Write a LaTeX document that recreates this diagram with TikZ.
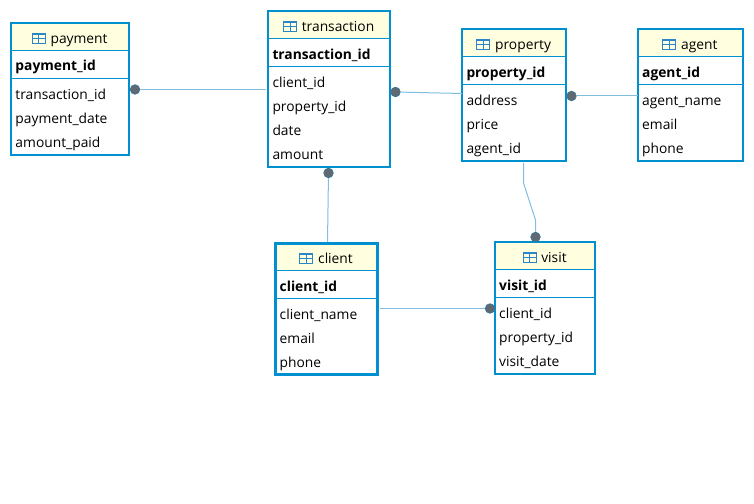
\documentclass[tikz,border=0pt]{standalone}
\usepackage{fontspec}
\setmainfont{Open Sans}
\usetikzlibrary{positioning}
\definecolor{tblblue}{RGB}{0,144,208}
\definecolor{tblhead}{RGB}{255,255,224}
\definecolor{iconblue}{RGB}{42,134,200}
\definecolor{linkblue}{RGB}{125,190,225}
\definecolor{dotgrey}{RGB}{98,104,112}
\tikzset{
  tblbox/.style={draw=tblblue,anchor=north west,inner sep=0pt,outer sep=0pt},
  tblrule/.style={draw=tblblue,line width=1bp},
  tbltitle/.style={anchor=base,inner sep=0pt,text height=13bp,text depth=3bp,font=\fontsize{13.8bp}{16bp}\selectfont},
  tblkey/.style={anchor=base west,inner sep=0pt,font=\fontsize{13.8bp}{16bp}\selectfont\bfseries},
  tblfield/.style={anchor=base west,inner sep=0pt,font=\fontsize{13.8bp}{16bp}\selectfont},
  tblicon/.style={draw=iconblue,line width=1bp,inner sep=0pt,outer sep=0pt,minimum width=13bp,minimum height=9.5bp,
    path picture={\draw [iconblue,line width=1bp]
      ([yshift=-.5bp]path picture bounding box.west) -- ([yshift=-.5bp]path picture bounding box.east)
      (path picture bounding box.north) -- (path picture bounding box.south);
      \draw [iconblue,line width=2bp] (path picture bounding box.north west) -- (path picture bounding box.north east);}},
  link/.style={draw=linkblue,line width=1bp},
  fkdot/.style={circle,fill=dotgrey,draw=tblblue!40!dotgrey,line width=.8bp,inner sep=0pt,minimum size=9.5bp},
}
% \dbtable[border]{name}{left}{top}{width}{height}{title}{key}{fields}
\newcommand{\dbtable}[9][2bp]{
  \begin{scope}[shift={(#3,#4)}]
    \fill [tblhead] (0,0) rectangle (#5,27.5);
    \draw [tblrule] (0,27.5) -- (#5,27.5);
    \draw [tblrule] (0,55.3) -- (#5,55.3);
  \end{scope}
  \node [tblbox,line width=#1,minimum width=#5 bp,minimum height=#6 bp] (#2) at (#3,#4) {};
  \begin{scope}[shift={(#3,#4)}]
    \node [tbltitle] (#2-title) at (#5/2+9,20) {#7};
    \node [tblicon,left=5bp of #2-title] (#2-icon) {};
    \node [tblkey] (#2-key) at (4,47.7) {#8};
    \foreach \f [count=\i] in {#9} {
      \node [tblfield] (#2-\i) at (4,76+24*\i-24) {\f};
    }
  \end{scope}
}
\begin{document}
\begin{tikzpicture}[x=1bp,y=-1bp]
  \useasboundingbox (0,0) rectangle (754,504);
  \dbtable{payment}{11.3}{23.3}{117.5}{131.6}{payment}{payment\_id}{transaction\_id,payment\_date,amount\_paid}
  \dbtable{transaction}{268.3}{11.5}{121.5}{155.5}{transaction}{transaction\_id}{client\_id,property\_id,date,amount}
  \dbtable{property}{462.3}{29.5}{103.5}{131.5}{property}{property\_id}{address,price,agent\_id}
  \dbtable{agent}{638}{29.5}{104.5}{131.5}{agent}{agent\_id}{agent\_name,email,phone}
  \dbtable[3bp]{client}{275.5}{243.4}{102}{130.8}{client}{client\_id}{client\_name,email,phone}
  \dbtable{visit}{495}{242.5}{100}{131}{visit}{visit\_id}{client\_id,property\_id,visit\_date}

  \node [fkdot] (paymentdot) at (135,89.5) {};
  \node [fkdot] (transdot) at (395.5,92) {};
  \node [fkdot] (propdot) at (571.5,96) {};
  \node [fkdot] (clientdot) at (328.5,173) {};
  \node [fkdot] (visitdot) at (535.5,237) {};
  \node [fkdot] (fkvisit) at (490,308.5) {};

  \coordinate (paymentend) at (266,89.5);
  \coordinate (propend) at (462,93.5);
  \coordinate (agentend) at (638,96);
  \coordinate (clientend) at (327.5,242);
  \coordinate (propout) at (523.5,163);
  \coordinate (clientout) at (380,308.5);

  \draw [link] (paymentdot) -- (paymentend);
  \draw [link] (transdot) -- (propend);
  \draw [link] (propdot) -- (agentend);
  \draw [link] (clientdot) -- (clientend);
  \draw [link] (propout) -- (523.5,183) -- (535.5,220) -- (visitdot);
  \draw [link] (clientout) -- (fkvisit);
\end{tikzpicture}
\end{document}
